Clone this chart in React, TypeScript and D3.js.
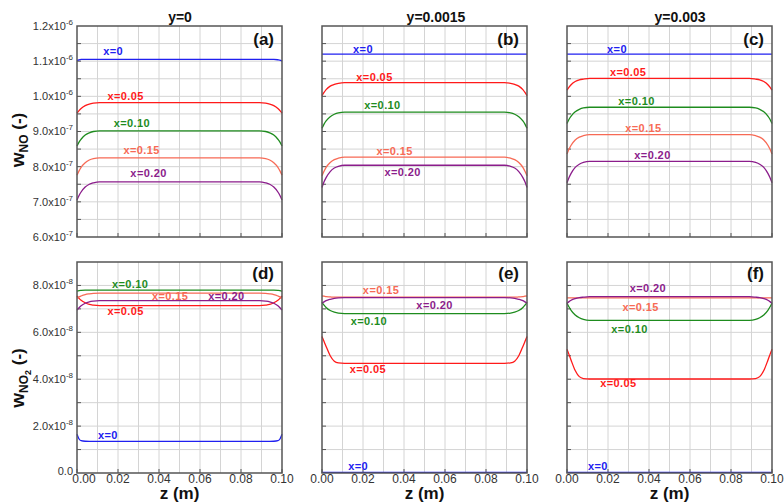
import React from "react";
import * as d3 from "d3";

// ---------- DATA ----------
const zGrid = [0, 0.001, 0.002, 0.004, 0.006, 0.008, 0.011, 0.05, 0.089, 0.092, 0.094, 0.096, 0.098, 0.099, 0.1];
const seriesNames = ["x=0", "x=0.05", "x=0.10", "x=0.15", "x=0.20"];
const seriesColors = ["#2020f0", "#ff1a1a", "#1e8c1e", "#f76a55", "#8b1c8b"];

// w_NO, units of 1e-7
const noY0_x0 = [11.02, 11.04, 11.05, 11.05, 11.05, 11.05, 11.05, 11.05, 11.05, 11.05, 11.05, 11.05, 11.04, 11.03, 11.0];
const noY0_x05 = [9.52, 9.595, 9.655, 9.736, 9.781, 9.805, 9.82, 9.82, 9.82, 9.805, 9.781, 9.736, 9.655, 9.595, 9.52];
const noY0_x10 = [8.59, 8.7, 8.78, 8.9, 8.96, 9.0, 9.02, 9.02, 9.02, 9.0, 8.96, 8.9, 8.78, 8.7, 8.59];
const noY0_x15 = [7.76, 7.88, 7.98, 8.11, 8.19, 8.23, 8.25, 8.25, 8.25, 8.23, 8.19, 8.11, 7.98, 7.88, 7.76];
const noY0_x20 = [7.05, 7.18, 7.28, 7.42, 7.5, 7.54, 7.57, 7.57, 7.57, 7.54, 7.5, 7.42, 7.28, 7.18, 7.05];

const noY15_x0 = [11.2, 11.2, 11.2, 11.2, 11.2, 11.2, 11.2, 11.2, 11.2, 11.2, 11.2, 11.2, 11.2, 11.2, 11.2];
const noY15_x05 = [10.02, 10.11, 10.19, 10.29, 10.34, 10.37, 10.39, 10.39, 10.39, 10.37, 10.34, 10.29, 10.19, 10.11, 10.02];
const noY15_x10 = [9.09, 9.21, 9.3, 9.42, 9.49, 9.53, 9.55, 9.55, 9.55, 9.53, 9.49, 9.42, 9.3, 9.21, 9.09];
const noY15_x15 = [7.74, 7.87, 7.98, 8.12, 8.2, 8.24, 8.27, 8.27, 8.27, 8.24, 8.2, 8.12, 7.98, 7.87, 7.74];
const noY15_x20 = [7.41, 7.57, 7.69, 7.86, 7.96, 8.01, 8.04, 8.04, 8.04, 8.01, 7.96, 7.86, 7.69, 7.57, 7.41];

const noY3_x0 = [11.2, 11.2, 11.2, 11.2, 11.2, 11.2, 11.2, 11.2, 11.2, 11.2, 11.2, 11.2, 11.2, 11.2, 11.2];
const noY3_x05 = [10.18, 10.26, 10.33, 10.42, 10.47, 10.49, 10.51, 10.51, 10.51, 10.49, 10.47, 10.42, 10.33, 10.26, 10.18];
const noY3_x10 = [9.23, 9.35, 9.44, 9.56, 9.63, 9.67, 9.69, 9.69, 9.69, 9.67, 9.63, 9.56, 9.44, 9.35, 9.23];
const noY3_x15 = [8.36, 8.5, 8.61, 8.76, 8.84, 8.88, 8.91, 8.91, 8.91, 8.88, 8.84, 8.76, 8.61, 8.5, 8.36];
const noY3_x20 = [7.54, 7.69, 7.81, 7.98, 8.07, 8.12, 8.15, 8.15, 8.15, 8.12, 8.07, 7.98, 7.81, 7.69, 7.54];

// w_NO2, units of 1e-8
const no2Y0_x0 = [1.65, 1.45, 1.38, 1.355, 1.35, 1.35, 1.35, 1.35, 1.35, 1.35, 1.35, 1.355, 1.38, 1.45, 1.65];
const no2Y0_x05 = [7.55, 7.45, 7.37, 7.26, 7.19, 7.16, 7.14, 7.14, 7.14, 7.16, 7.19, 7.26, 7.37, 7.45, 7.55];
const no2Y0_x10 = [7.76, 7.78, 7.79, 7.8, 7.8, 7.8, 7.8, 7.8, 7.8, 7.8, 7.8, 7.8, 7.79, 7.78, 7.76];
const no2Y0_x15 = [7.45, 7.51, 7.55, 7.61, 7.64, 7.66, 7.67, 7.67, 7.67, 7.66, 7.64, 7.61, 7.55, 7.51, 7.45];
const no2Y0_x20 = [6.95, 7.05, 7.13, 7.24, 7.3, 7.33, 7.35, 7.35, 7.35, 7.33, 7.3, 7.24, 7.13, 7.05, 6.95];

const no2Y15_x0 = [0.03, 0.03, 0.03, 0.03, 0.03, 0.03, 0.03, 0.03, 0.03, 0.03, 0.03, 0.03, 0.03, 0.03, 0.03];
const no2Y15_x05 = [5.82, 5.61, 5.4, 5.0, 4.77, 4.7, 4.68, 4.68, 4.68, 4.7, 4.77, 5.0, 5.4, 5.61, 5.82];
const no2Y15_x10 = [7.28, 7.16, 7.06, 6.93, 6.86, 6.82, 6.8, 6.8, 6.8, 6.82, 6.86, 6.93, 7.06, 7.16, 7.28];
const no2Y15_x15 = [7.55, 7.54, 7.52, 7.51, 7.5, 7.5, 7.5, 7.5, 7.5, 7.5, 7.5, 7.51, 7.52, 7.54, 7.55];
const no2Y15_x20 = [7.24, 7.3, 7.35, 7.41, 7.45, 7.47, 7.48, 7.48, 7.48, 7.47, 7.45, 7.41, 7.35, 7.3, 7.24];

const no2Y3_x0 = [0.03, 0.03, 0.03, 0.03, 0.03, 0.03, 0.03, 0.03, 0.03, 0.03, 0.03, 0.03, 0.03, 0.03, 0.03];
const no2Y3_x05 = [5.28, 5.05, 4.81, 4.37, 4.11, 4.03, 4.01, 4.01, 4.01, 4.03, 4.11, 4.37, 4.81, 5.05, 5.28];
const no2Y3_x10 = [7.24, 7.08, 6.94, 6.74, 6.62, 6.55, 6.51, 6.51, 6.51, 6.55, 6.62, 6.74, 6.94, 7.08, 7.24];
const no2Y3_x15 = [7.47, 7.47, 7.47, 7.47, 7.47, 7.47, 7.47, 7.47, 7.47, 7.47, 7.47, 7.47, 7.47, 7.47, 7.47];
const no2Y3_x20 = [7.24, 7.31, 7.37, 7.44, 7.48, 7.5, 7.52, 7.52, 7.52, 7.5, 7.48, 7.44, 7.37, 7.31, 7.24];

// axis ticks
const zTicks = [0, 0.02, 0.04, 0.06, 0.08, 0.1];
const zTickLabels = ["0.00", "0.02", "0.04", "0.06", "0.08", "0.10"];
const zGridLines = [0.01, 0.02, 0.03, 0.04, 0.05, 0.06, 0.07, 0.08, 0.09];

const noTicks = [6, 7, 8, 9, 10, 11, 12];
const noTickMant = ["6.0x10", "7.0x10", "8.0x10", "9.0x10", "1.0x10", "1.1x10", "1.2x10"];
const noTickExp = ["-7", "-7", "-7", "-7", "-6", "-6", "-6"];
const noGridLines = [6.5, 7, 7.5, 8, 8.5, 9, 9.5, 10, 10.5, 11, 11.5];

const no2Ticks = [0, 2, 4, 6, 8];
const no2TickMant = ["0.0", "2.0x10", "4.0x10", "6.0x10", "8.0x10"];
const no2TickExp = ["", "-8", "-8", "-8", "-8"];
const no2GridLines = [1, 2, 3, 4, 5, 6, 7, 8];

const colTitles = ["y=0", "y=0.0015", "y=0.003"];
const panelTags = ["(a)", "(b)", "(c)", "(d)", "(e)", "(f)"];

// label anchors (z, value) per panel, series order
const labZ = [
  [0.0176, 0.0237, 0.0268, 0.0315, 0.0349],
  [0.02, 0.0256, 0.0295, 0.0354, 0.0393],
  [0.0244, 0.0298, 0.0339, 0.0373, 0.0417],
  [0.0151, 0.0237, 0.0259, 0.0454, 0.0729],
  [0.0176, 0.0224, 0.0229, 0.0288, 0.0549],
  [0.0151, 0.0251, 0.0305, 0.0359, 0.0395],
];
const labV = [
  [11.29, 10.01, 9.24, 8.47, 7.82],
  [11.35, 10.55, 9.75, 8.45, 7.85],
  [11.35, 10.69, 9.87, 9.1, 8.33],
  [1.62, 6.91, 8.06, 7.55, 7.55],
  [0.3, 4.44, 6.48, 7.81, 7.17],
  [0.3, 3.84, 6.14, 7.08, 7.89],
];

// ---------- LAYOUT ----------
const W = 784, H = 503;
const colX = [77, 322, 567];
const rowY = [26, 262];
const PW = 205, PH = 211;
const FONT = "'Liberation Sans', Arial, Helvetica, sans-serif";

const panelSeries = [
  [noY0_x0, noY0_x05, noY0_x10, noY0_x15, noY0_x20],
  [noY15_x0, noY15_x05, noY15_x10, noY15_x15, noY15_x20],
  [noY3_x0, noY3_x05, noY3_x10, noY3_x15, noY3_x20],
  [no2Y0_x0, no2Y0_x05, no2Y0_x10, no2Y0_x15, no2Y0_x20],
  [no2Y15_x0, no2Y15_x05, no2Y15_x10, no2Y15_x15, no2Y15_x20],
  [no2Y3_x0, no2Y3_x05, no2Y3_x10, no2Y3_x15, no2Y3_x20],
];

function Panel({ idx }: { idx: number }) {
  const col = idx % 3;
  const row = Math.floor(idx / 3);
  const x0 = colX[col];
  const y0 = rowY[row];
  const xs = d3.scaleLinear().domain([0, 0.1]).range([x0, x0 + PW]);
  const ys = row === 0
    ? d3.scaleLinear().domain([6, 12]).range([y0 + PH, y0])
    : d3.scaleLinear().domain([0, 9]).range([y0 + PH, y0]);
  const gridY = row === 0 ? noGridLines : no2GridLines;
  const ticksY = row === 0 ? noTicks : no2Ticks;
  const mant = row === 0 ? noTickMant : no2TickMant;
  const exps = row === 0 ? noTickExp : no2TickExp;
  const line = d3.line<number>()
    .x((_, i) => xs(zGrid[i]))
    .y((v) => ys(v))
    .curve(d3.curveMonotoneX);
  const series = panelSeries[idx];
  return (
    <g>
      <rect x={x0} y={y0} width={PW} height={PH} fill="#fff" />
      {zGridLines.map((z) => (
        <line key={"gx" + z} x1={xs(z)} x2={xs(z)} y1={y0} y2={y0 + PH} stroke="#d4d4d4" strokeWidth={1} />
      ))}
      {gridY.map((v) => (
        <line key={"gy" + v} x1={x0} x2={x0 + PW} y1={ys(v)} y2={ys(v)} stroke="#d4d4d4" strokeWidth={1} />
      ))}
      {zTicks.map((z) => (
        <line key={"tx" + z} x1={xs(z)} x2={xs(z)} y1={y0 + PH} y2={y0 + PH - 4} stroke="#555" strokeWidth={1} />
      ))}
      {gridY.map((v) => (
        <line key={"ty" + v} x1={x0} x2={x0 + 4} y1={ys(v)} y2={ys(v)} stroke="#555" strokeWidth={1} />
      ))}
      {series.map((s, i) => (
        <path key={"s" + i} d={line(s) || ""} fill="none" stroke={seriesColors[i]} strokeWidth={1.3} />
      ))}
      <rect x={x0} y={y0} width={PW} height={PH} fill="none" stroke="#555" strokeWidth={1.5} />
      {series.map((_, i) => (
        <text key={"l" + i} x={xs(labZ[idx][i])} y={ys(labV[idx][i])} dy="0.36em" textAnchor="middle"
          fontFamily={FONT} fontSize={11} fontWeight="bold" letterSpacing={0.4} fill={seriesColors[i]}>
          {seriesNames[i]}
        </text>
      ))}
      <text x={x0 + PW - 8} y={y0 + (row === 0 ? 19 : 17)} textAnchor="end" fontFamily={FONT}
        fontSize={17} fontWeight="bold" fill="#111">{panelTags[idx]}</text>
      {col === 0 && ticksY.map((v, i) => (
        <text key={"yl" + v} x={73} y={ys(v) - (v === 0 ? 2 : 0)} dy="0.36em" textAnchor="end" fontFamily={FONT} fontSize={11} fill="#333">
          {mant[i]}
          {exps[i] && <tspan dy={-5} fontSize={8}>{exps[i]}</tspan>}
        </text>
      ))}
      {row === 1 && zTicks.map((z, i) => (
        <text key={"xl" + z} x={xs(z) + (col === 0 && i === 0 ? 7 : 0)} y={483} textAnchor="middle" fontFamily={FONT} fontSize={12} fill="#333">
          {zTickLabels[i]}
        </text>
      ))}
      {row === 1 && (
        <text x={x0 + PW / 2} y={499} textAnchor="middle" fontFamily={FONT} fontSize={17} fontWeight="bold" fill="#111">
          z (m)
        </text>
      )}
    </g>
  );
}

const titleX = [180, 436, 680];

export default function App() {
  return (
    <svg width={W} height={H} viewBox={`0 0 ${W} ${H}`}
      style={{ position: "absolute", left: 0, top: 0, background: "#fff" }}>
      <rect x={0} y={0} width={W} height={H} fill="#fff" />
      {[0, 1, 2, 3, 4, 5].map((i) => <Panel key={i} idx={i} />)}
      {colTitles.map((t, i) => (
        <text key={t} x={titleX[i]} y={22} textAnchor="middle" fontFamily={FONT} fontSize={14} fontWeight="bold" fill="#111">{t}</text>
      ))}
      <text transform="translate(24,140) rotate(-90)" textAnchor="middle" fontFamily={FONT} fontWeight="bold" fill="#111">
        <tspan fontSize={19}>w</tspan>
        <tspan fontSize={12} dy={4}>NO</tspan>
        <tspan fontSize={17} dy={-4}> (-)</tspan>
      </text>
      <text transform="translate(24,378) rotate(-90)" textAnchor="middle" fontFamily={FONT} fontWeight="bold" fill="#111">
        <tspan fontSize={19}>w</tspan>
        <tspan fontSize={12} dy={4}>NO</tspan>
        <tspan fontSize={9} dy={3}>2</tspan>
        <tspan fontSize={17} dy={-7}> (-)</tspan>
      </text>
    </svg>
  );
}
